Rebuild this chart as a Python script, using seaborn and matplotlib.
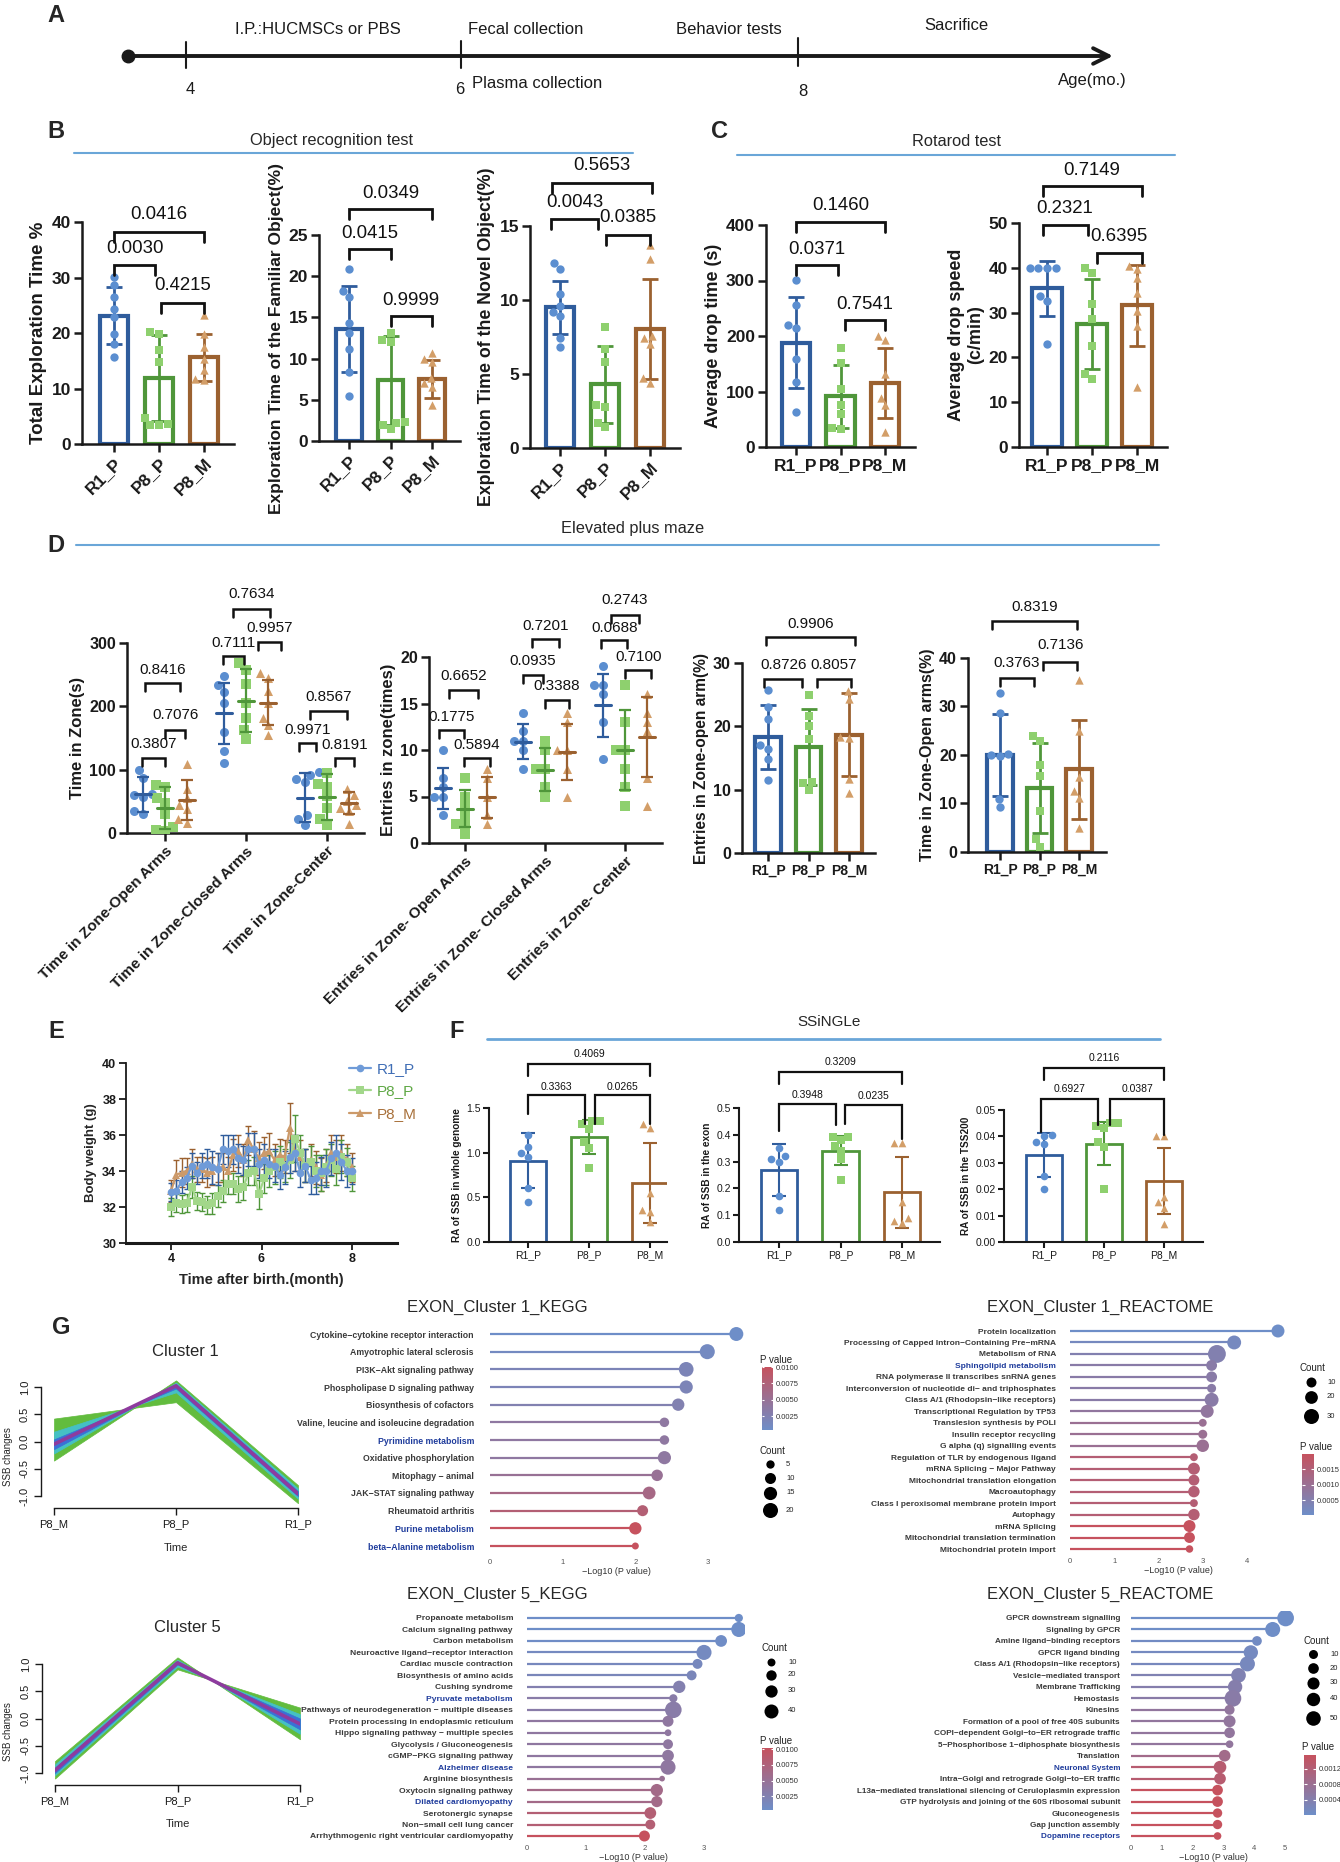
import warnings
warnings.filterwarnings("ignore")
import numpy as np
import pandas as pd
import matplotlib
matplotlib.use("Agg")
import matplotlib.pyplot as plt
import seaborn as sns
from matplotlib.colors import LinearSegmentedColormap, Normalize
from matplotlib.cm import ScalarMappable
from matplotlib import font_manager as fm

sns.set_theme(style="ticks")
plt.rcParams['font.family'] = ['Liberation Sans', 'DejaVu Sans']
_names = {f.name for f in fm.fontManager.ttflist}
NARROW = ["Liberation Sans Narrow", "DejaVu Sans"] if "Liberation Sans Narrow" in _names else ["Liberation Sans", "DejaVu Sans"]

# ------------------------------------------------------------------ DATA
GROUPS = ["R1_P", "P8_P", "P8_M"]

# B: object recognition test
b1_mean = [23.1, 11.9, 15.6]
b1_sd = [5.1, 7.7, 4.2]
b1_pts = [[30.1, 28.6, 26.5, 24.4, 22.9, 19.9, 18.0, 15.6],
          [20.1, 19.9, 16.9, 14.8, 4.7, 3.6, 3.4, 3.5],
          [23.2, 19.8, 17.4, 15.4, 13.4, 11.8, 11.5]]
b1_p = ["0.0030", "0.4215", "0.0416"]

b2_mean = [13.6, 7.4, 7.5]
b2_sd = [5.2, 5.4, 2.3]
b2_pts = [[20.9, 18.2, 17.5, 14.3, 13.1, 11.2, 8.4, 5.5],
          [13.1, 12.2, 12.0, 2.3, 2.2, 2.0, 1.4],
          [10.7, 9.9, 9.6, 7.6, 7.0, 6.6, 4.4]]
b2_p = ["0.0415", "0.9999", "0.0349"]

b3_mean = [9.5, 4.3, 8.05]
b3_sd = [1.8, 2.6, 3.4]
b3_pts = [[12.5, 12.1, 10.4, 9.6, 9.2, 8.9, 7.4, 6.8],
          [8.2, 6.7, 5.8, 2.9, 2.8, 1.7, 1.4],
          [13.7, 12.8, 7.6, 7.4, 7.0, 4.7, 4.4]]
b3_p = ["0.0043", "0.0385", "0.5653"]

# C: rotarod
c1_mean = [188, 91, 116]
c1_sd = [82, 57, 63]
c1_pts = [[301, 256, 220, 214, 158, 118, 63],
          [178, 152, 104, 76, 60, 35, 32],
          [200, 192, 132, 88, 75, 27]]
c1_p = ["0.0371", "0.7541", "0.1460"]

c2_mean = [35.4, 27.5, 31.6]
c2_sd = [6.2, 10.1, 9.1]
c2_pts = [[40, 40, 40, 40, 33.6, 32.5, 23.1],
          [40, 38.9, 32, 28.5, 22.5, 16.2, 15.2],
          [40.3, 39.8, 37.7, 34.3, 30.4, 27, 13.4]]
c2_p = ["0.2321", "0.6395", "0.7149"]

# D: elevated plus maze  (zone x group)
d1_zones = ["Time in Zone-Open Arms", "Time in Zone-Closed Arms", "Time in Zone-Center"]
d1_pts = [[[100, 87, 62, 60, 57, 35, 30], [76, 72, 55, 48, 30, 10, 5, 3], [109, 70, 55, 45, 38, 22, 16]],
          [[248, 233, 222, 205, 160, 130, 110], [268, 258, 235, 205, 182, 162, 148], [252, 244, 224, 205, 182, 170, 155]],
          [[96, 92, 85, 80, 28, 22, 12], [95, 78, 73, 58, 40, 22, 12], [70, 60, 50, 45, 40, 35, 15]]]
d1_mean = [[61, 40, 52], [189, 209, 206], [56, 57, 47.5]]
d1_sd = [[28, 33, 32], [48, 50, 35], [38, 36, 17]]
d1_p = ["0.3807", "0.7076", "0.8416", "0.7111", "0.9957", "0.7634", "0.9971", "0.8191", "0.8567"]

d2_zones = ["Entries in Zone- Open Arms", "Entries in Zone- Closed Arms", "Entries in Zone- Center"]
d2_pts = [[[10, 7, 6, 5, 5, 3], [7, 5, 4, 3, 2, 2, 1], [8, 7, 5, 3, 2]],
          [[14, 12, 11, 11, 10, 8], [11, 10, 8, 8, 6, 5], [14, 13, 10, 10, 8, 5]],
          [[19, 17, 17, 16, 13, 9], [17, 13, 10, 10, 8, 6, 4], [16, 14, 13, 12, 7, 4]]]
d2_mean = [[5.9, 3.7, 4.9], [10.9, 7.9, 9.8], [14.8, 10.0, 11.4]]
d2_sd = [[2.2, 2.0, 2.2], [1.9, 2.3, 3.0], [3.4, 4.3, 4.3]]
d2_p = ["0.1775", "0.5894", "0.6652", "0.0935", "0.3388", "0.7201", "0.0688", "0.7100", "0.2743"]

d3_mean = [18.3, 16.8, 18.7]
d3_sd = [5.0, 6.0, 6.6]
d3_pts = [[25.7, 23, 21.2, 17, 16.4, 14.8, 11.6],
          [25, 21.6, 20, 18, 11.2, 11, 10],
          [25.6, 24.3, 18.3, 18.1, 11.7, 9.4]]
d3_p = ["0.8726", "0.8057", "0.9906"]

d4_mean = [20.0, 13.2, 17.1]
d4_sd = [8.5, 9.3, 10.2]
d4_pts = [[32.8, 28.6, 20.2, 20, 19.7, 11, 9.3],
          [24, 22.8, 18, 15.6, 8.5, 2.6, 1],
          [35.5, 25, 15.5, 12.5, 11.1, 5]]
d4_p = ["0.3763", "0.7136", "0.8319"]

# E: body weight (twice weekly, 4-8 months)
e_month = [4.00, 4.11, 4.23, 4.34, 4.46, 4.57, 4.69, 4.80, 4.91, 5.03, 5.14, 5.26, 5.37, 5.49, 5.60, 5.71, 5.83, 5.94,
           6.06, 6.17, 6.29, 6.40, 6.51, 6.63, 6.74, 6.86, 6.97, 7.09, 7.20, 7.31, 7.43, 7.54, 7.66, 7.77, 7.89, 8.00]
e_r1 = [32.85, 32.9, 33.4, 33.6, 34.3, 33.9, 34.3, 34.4, 34.2, 34.1, 35.2, 35.1, 35.2, 34.7, 34.6, 35.2, 35.2, 34.4,
        34.6, 34.4, 34.3, 33.8, 34.2, 34.8, 35.0, 33.9, 34.3, 33.5, 33.6, 34.0, 34.0, 34.7, 35.0, 34.5, 34.0, 34.0]
e_r1_sd = [0.5, 0.6, 0.6, 0.6, 0.7, 0.6, 0.7, 0.8, 0.9, 0.9, 0.8, 0.9, 0.8, 0.8, 0.8, 0.9, 0.9, 0.8,
           0.9, 0.8, 0.9, 0.8, 0.9, 0.9, 1.0, 0.8, 0.9, 0.8, 0.9, 0.8, 0.9, 0.9, 1.0, 1.0, 0.9, 0.7]
e_p8p = [32.0, 32.2, 32.15, 32.2, 33.1, 32.35, 32.3, 32.1, 32.2, 32.6, 32.9, 33.3, 33.3, 33.0, 33.1, 33.9, 34.0, 32.7,
         33.6, 34.0, 34.2, 34.5, 34.3, 34.6, 35.8, 35.0, 34.3, 34.5, 34.0, 33.9, 34.2, 34.6, 34.1, 34.8, 34.5, 33.6]
e_p8p_sd = [0.5, 0.5, 0.5, 0.5, 0.6, 0.5, 0.5, 0.5, 0.6, 0.6, 0.6, 0.6, 0.6, 0.7, 0.7, 0.7, 0.8, 0.8,
            0.8, 0.9, 0.9, 0.9, 0.9, 1.0, 1.3, 1.0, 0.9, 0.9, 0.9, 1.0, 1.0, 0.9, 0.9, 0.9, 0.8, 0.7]
e_p8m = [32.9, 33.8, 33.9, 34.0, 34.4, 34.1, 34.1, 33.9, 34.0, 34.2, 34.2, 34.0, 34.9, 35.1, 34.6, 35.7, 35.2, 34.7,
         35.0, 35.1, 34.6, 34.9, 34.8, 36.4, 35.0, 34.8, 34.3, 34.6, 34.2, 33.8, 34.3, 35.0, 34.8, 35.0, 34.6, 34.2]
e_p8m_sd = [0.6, 0.8, 0.8, 0.7, 0.8, 0.7, 0.7, 0.8, 0.8, 0.8, 0.8, 0.8, 0.9, 0.9, 0.9, 0.8, 1.0, 0.9,
            0.9, 1.0, 0.9, 0.9, 0.9, 1.4, 1.0, 0.9, 0.9, 0.9, 0.9, 0.9, 0.9, 1.0, 0.9, 1.0, 0.9, 0.8]

# F: SSiNGLe
f1_mean = [0.91, 1.18, 0.66]
f1_sd = [0.31, 0.19, 0.45]
f1_pts = [[1.2, 1.06, 1.0, 0.95, 0.6, 0.45], [1.36, 1.35, 1.32, 1.27, 1.12, 1.05, 0.83], [1.32, 1.28, 0.55, 0.36, 0.34, 0.22]]
f1_p = ["0.3363", "0.0265", "0.4069"]
f2_mean = [0.269, 0.341, 0.185]
f2_sd = [0.097, 0.054, 0.131]
f2_pts = [[0.35, 0.32, 0.31, 0.30, 0.17, 0.12], [0.39, 0.39, 0.38, 0.36, 0.34, 0.31, 0.23], [0.37, 0.37, 0.15, 0.09, 0.08, 0.07]]
f2_p = ["0.3948", "0.0235", "0.3209"]
f3_mean = [0.0329, 0.0373, 0.0230]
f3_sd = [0.0084, 0.0083, 0.0125]
f3_pts = [[0.0405, 0.040, 0.038, 0.037, 0.025, 0.020], [0.045, 0.045, 0.044, 0.043, 0.038, 0.036, 0.020], [0.040, 0.040, 0.017, 0.015, 0.013, 0.007]]
f3_p = ["0.6927", "0.0387", "0.2116"]

# G: clusters (P8_M, P8_P, R1_P)
cl_x = ["P8_M", "P8_P", "R1_P"]
cl1_layers = [([0.42, 0.72, -1.13], [-0.35, 1.12, -0.80]),
              ([0.18, 0.90, -1.05], [-0.22, 1.08, -0.86]),
              ([0.04, 0.97, -1.00], [-0.14, 1.05, -0.91])]
cl1_center = [-0.05, 1.02, -0.96]
cl5_layers = [([-1.10, 0.90, 0.20], [-0.78, 1.12, -0.38]),
              ([-1.04, 0.95, 0.08], [-0.84, 1.08, -0.28]),
              ([-1.00, 0.99, 0.00], [-0.90, 1.05, -0.20])]
cl5_center = [-0.95, 1.02, -0.10]

k1_names = ["Cytokine−cytokine receptor interaction", "Amyotrophic lateral sclerosis", "PI3K−Akt signaling pathway",
            "Phospholipase D signaling pathway", "Biosynthesis of cofactors", "Valine, leucine and isoleucine degradation",
            "Pyrimidine metabolism", "Oxidative phosphorylation", "Mitophagy − animal", "JAK−STAT signaling pathway",
            "Rheumatoid arthritis", "Purine metabolism", "beta−Alanine metabolism"]
k1_vals = [3.39, 2.99, 2.70, 2.70, 2.59, 2.40, 2.40, 2.40, 2.30, 2.19, 2.10, 2.00, 2.00]
k1_counts = [17, 20, 19, 15, 13, 7, 7, 15, 11, 14, 10, 13, 3]
k1_blue = ["Pyrimidine metabolism", "Purine metabolism", "beta−Alanine metabolism"]

r1_names = ["Protein localization", "Processing of Capped Intron−Containing Pre−mRNA", "Metabolism of RNA",
            "Sphingolipid metabolism", "RNA polymerase II transcribes snRNA genes",
            "Interconversion of nucleotide di− and triphosphates", "Class A/1 (Rhodopsin−like receptors)",
            "Transcriptional Regulation by TP53", "Translesion synthesis by POLI", "Insulin receptor recycling",
            "G alpha (q) signalling events", "Regulation of TLR by endogenous ligand", "mRNA Splicing − Major Pathway",
            "Mitochondrial translation elongation", "Macroautophagy", "Class I peroxisomal membrane protein import",
            "Autophagy", "mRNA Splicing", "Mitochondrial translation termination", "Mitochondrial protein import"]
r1_vals = [4.70, 3.71, 3.32, 3.20, 3.20, 3.20, 3.20, 3.10, 3.00, 3.00, 3.00, 2.80, 2.80, 2.80, 2.80, 2.80, 2.80, 2.70, 2.70, 2.70]
r1_counts = [21, 25, 45, 13, 13, 7, 25, 21, 4, 7, 19, 4, 17, 13, 15, 4, 15, 17, 13, 3]
r1_blue = ["Sphingolipid metabolism"]

k5_names = ["Propanoate metabolism", "Calcium signaling pathway", "Carbon metabolism",
            "Neuroactive ligand−receptor interaction", "Cardiac muscle contraction", "Biosynthesis of amino acids",
            "Cushing syndrome", "Pyruvate metabolism", "Pathways of neurodegeneration − multiple diseases",
            "Protein processing in endoplasmic reticulum", "Hippo signaling pathway − multiple species",
            "Glycolysis / Gluconeogenesis", "cGMP−PKG signaling pathway", "Alzheimer disease", "Arginine biosynthesis",
            "Oxytocin signaling pathway", "Dilated cardiomyopathy", "Serotonergic synapse", "Non−small cell lung cancer",
            "Arrhythmogenic right ventricular cardiomyopathy"]
k5_vals = [3.59, 3.59, 3.29, 3.00, 2.89, 2.79, 2.58, 2.48, 2.48, 2.39, 2.39, 2.39, 2.39, 2.39, 2.29, 2.20, 2.20, 2.09, 2.09, 1.99]
k5_counts = [11, 47, 27, 47, 18, 18, 30, 11, 58, 23, 6, 18, 27, 47, 3, 30, 24, 27, 18, 23]
k5_blue = ["Pyruvate metabolism", "Alzheimer disease", "Dilated cardiomyopathy"]

r5_names = ["GPCR downstream signalling", "Signaling by GPCR", "Amine ligand−binding receptors", "GPCR ligand binding",
            "Class A/1 (Rhodopsin−like receptors)", "Vesicle−mediated transport", "Membrane Trafficking", "Hemostasis",
            "Kinesins", "Formation of a pool of free 40S subunits", "COPI−dependent Golgi−to−ER retrograde traffic",
            "5−Phosphoribose 1−diphosphate biosynthesis", "Translation", "Neuronal System",
            "Intra−Golgi and retrograde Golgi−to−ER traffic",
            "L13a−mediated translational silencing of Ceruloplasmin expression",
            "GTP hydrolysis and joining of the 60S ribosomal subunit", "Gluconeogenesis", "Gap junction assembly",
            "Dopamine receptors"]
r5_vals = [5.02, 4.60, 4.09, 3.89, 3.78, 3.49, 3.38, 3.31, 3.20, 3.20, 3.20, 3.20, 3.04, 2.89, 2.89, 2.81, 2.81, 2.81, 2.81, 2.81]
r5_counts = [70, 54, 14, 48, 54, 51, 48, 70, 16, 29, 20, 3, 27, 34, 27, 20, 20, 12, 12, 3]
r5_blue = ["Neuronal System", "Dopamine receptors"]

# ------------------------------------------------------------------ STYLE
EDGE = ["#2F5C9C", "#4F963A", "#9B6130"]
PTC = ["#5B8ED0", "#8ED06E", "#D39E68"]
ELINE = ["#6F9BD8", "#A2D78A", "#CC9A6A"]
ETXT = ["#3F6DB5", "#5FA845", "#A8703A"]
MARKS = ["o", "s", "^"]
OFFS = [-0.27, 0.0, 0.27]
SECT = "#6AA6D8"
HILITE = "#1F3C9C"
CMAP = LinearSegmentedColormap.from_list("pv", ["#6E8EC8", "#C6525E"])
LAYER_COLS = ["#62BC3E", "#45C0C4", "#3A70D6"]

W, H = 1340, 1862
fig = plt.figure(figsize=(W / 100, H / 100), dpi=100)
fig.patch.set_facecolor("white")

ov = fig.add_axes([0, 0, 1, 1])
ov.set_xlim(0, W)
ov.set_ylim(H, 0)
ov.axis("off")
ov.patch.set_visible(False)


def px_ax(x0, y0, x1, y1):
    a = fig.add_axes([x0 / W, 1 - y1 / H, (x1 - x0) / W, (y1 - y0) / H])
    a.patch.set_visible(False)
    return a


def finish_axes(ax, slw, tlen, tfs, bold=True, fam=None, xfs=None):
    sns.despine(ax=ax)
    for s in ("left", "bottom"):
        ax.spines[s].set_linewidth(slw)
        ax.spines[s].set_color("#1a1a1a")
    ax.tick_params(axis="both", width=slw, length=tlen, labelsize=tfs, colors="#1a1a1a", pad=2)
    if xfs:
        ax.tick_params(axis="x", labelsize=xfs)
    for lab in ax.get_xticklabels() + ax.get_yticklabels():
        lab.set_fontweight("bold" if bold else "normal")
        if fam:
            lab.set_family(fam)


def bracket(ax, spec, txt, dpp, fs, lw=2.0, fam=None, leg=10):
    x1, x2, y, ty = spec[:4]
    ll, lr = (spec[4], spec[5]) if len(spec) > 4 else (leg, leg)
    ax.plot([x1, x1, x2, x2], [y - ll * dpp, y, y, y - lr * dpp], color="#111111", lw=lw,
            clip_on=False, zorder=6, solid_joinstyle="miter")
    ax.text((x1 + x2) / 2, ty, txt, ha="center", va="center", fontsize=fs, clip_on=False,
            zorder=6, family=fam if fam else plt.rcParams["font.family"], color="#111111")


def bar_panel(geom, ymax, yticks, ytl, means, sds, pts, brk_txt, brk_pos, ylabel, rot,
              barw=0.62, blw=3.0, elw=2.0, cap=6, ms=6.0, pfs=13.4, tfs=12.5, yfs=13, xfs=None,
              slw=1.8, tlen=6, tick_bold=True, bfam=None, blkw=2.0, tfam=None, ylw="bold", leg=10):
    xa, xe, c0, c2, yt, yb = geom
    unit = (c2 - c0) / 2.0
    ax = px_ax(xa, yt, xe, yb)
    df = pd.DataFrame({"pos": [0.0, 1.0, 2.0], "val": means, "grp": GROUPS})
    sns.barplot(data=df, x="pos", y="val", hue="grp", hue_order=GROUPS, palette=EDGE,
                native_scale=True, dodge=False, fill=False, width=barw, linewidth=blw,
                errorbar=None, legend=False, ax=ax)
    for i in range(3):
        ax.errorbar(i, means[i], yerr=sds[i], fmt="none", ecolor=EDGE[i], elinewidth=elw,
                    capsize=cap, capthick=elw, zorder=4)
        sns.swarmplot(x=[float(i)] * len(pts[i]), y=pts[i], native_scale=True, orient="x",
                      marker=MARKS[i], color=PTC[i], size=ms, linewidth=0, ax=ax, zorder=5)
    ax.set_xlim((xa - c0) / unit, (xe - c0) / unit)
    ax.set_ylim(0, ymax)
    ax.set_yticks(yticks)
    ax.set_yticklabels(ytl)
    ax.set_xticks([0, 1, 2])
    if rot:
        ax.set_xticklabels(GROUPS, rotation=rot, ha="right", rotation_mode="anchor")
    else:
        ax.set_xticklabels(GROUPS)
    ax.set_xlabel("")
    ax.set_ylabel(ylabel, fontsize=yfs, fontweight=ylw, color="#1a1a1a", labelpad=3)
    finish_axes(ax, slw, tlen, tfs, bold=tick_bold, fam=tfam, xfs=xfs)
    dpp = ymax / (yb - yt)
    for spec, txt in zip(brk_pos, brk_txt):
        bracket(ax, spec, txt, dpp, pfs, lw=blkw, fam=bfam, leg=leg)
    return ax


def scatter_panel(geom, ymax, yticks, pts, means, sds, brk_txt, brk_pos, zones, ylabel):
    xa, xe, c0, c2, yt, yb = geom
    unit = (c2 - c0) / 2.0
    ax = px_ax(xa, yt, xe, yb)
    for h in range(3):
        xs, ys = [], []
        for g in range(3):
            xs += [g + OFFS[h]] * len(pts[g][h])
            ys += pts[g][h]
        sns.swarmplot(x=xs, y=ys, native_scale=True, orient="x", marker=MARKS[h], color=PTC[h],
                      size=6.5, linewidth=0, ax=ax, zorder=3)
        for g in range(3):
            x = g + OFFS[h]
            ax.plot([x - 0.1, x + 0.1], [means[g][h]] * 2, color=EDGE[h], lw=2.2, zorder=4)
            ax.errorbar(x, means[g][h], yerr=sds[g][h], fmt="none", ecolor=EDGE[h], elinewidth=1.6,
                        capsize=4, capthick=1.6, zorder=4)
    ax.set_xlim((xa - c0) / unit, (xe - c0) / unit)
    ax.set_ylim(0, ymax)
    ax.set_yticks(yticks)
    ax.set_xticks([0, 1, 2])
    ax.set_xticklabels(zones, rotation=45, ha="right", rotation_mode="anchor")
    ax.set_xlabel("")
    ax.set_ylabel(ylabel, fontsize=12, fontweight="bold", color="#1a1a1a", labelpad=3)
    finish_axes(ax, 1.8, 6, 11.5, xfs=11)
    dpp = ymax / (yb - yt)
    for spec, txt in zip(brk_pos, brk_txt):
        bracket(ax, spec, txt, dpp, 11, lw=1.8, leg=8)
    return ax


def lollipop(names, vals, counts, blues, ax_x0, ax_x1, zero_px, unit_px, y_first, y_last,
             xticks, lab_end, lfs, lfam, size_norm, sizes):
    n = len(names)
    sp = (y_last - y_first) / (n - 1)
    ax = px_ax(ax_x0, y_first - 0.6 * sp, ax_x1, y_last + 0.6 * sp)
    pv = [10 ** (-v) for v in vals]
    norm = Normalize(min(pv), max(pv))
    ypos = list(range(n))
    ax.hlines(ypos, 0, vals, colors=[CMAP(norm(q)) for q in pv], lw=1.6, zorder=1)
    sns.scatterplot(x=vals, y=ypos, hue=pv, palette=CMAP, hue_norm=norm, size=counts, sizes=sizes,
                    size_norm=size_norm, legend=False, linewidth=0, ax=ax, zorder=3)
    ax.set_xlim((ax_x0 - zero_px) / unit_px, (ax_x1 - zero_px) / unit_px)
    ax.set_ylim(n - 0.4, -0.6)
    ax.set_yticks(ypos)
    ax.set_yticklabels(names, fontsize=lfs, fontweight="bold", family=lfam)
    for lab, nm in zip(ax.get_yticklabels(), names):
        lab.set_color(HILITE if nm in blues else "#3a3a3a")
    ax.set_xticks(xticks)
    ax.set_xticklabels([str(t) for t in xticks], fontsize=5.5, color="#555555")
    ax.tick_params(axis="y", length=0, pad=(ax_x0 - lab_end) * 0.72)
    ax.tick_params(axis="x", length=0, pad=1.5)
    ax.set_xlabel("−Log10 (P value)", fontsize=6.5, color="#333333", labelpad=1)
    ax.set_ylabel("")
    for s in ax.spines.values():
        s.set_visible(False)
    ax.grid(False)
    return norm


def pbar(norm, x0, y0, x1, y1, ticks, title_xy):
    cax = px_ax(x0, y0, x1, y1)
    cb = fig.colorbar(ScalarMappable(norm=norm, cmap=CMAP), cax=cax, ticks=ticks)
    cb.outline.set_visible(False)
    cax.tick_params(length=0, labelsize=5.5, pad=2, colors="#333333")
    cax.set_yticklabels([f"{t:.4f}" for t in ticks])
    cax.hlines(ticks, 0, 0.22, colors="white", lw=0.8)
    cax.hlines(ticks, 0.78, 1, colors="white", lw=0.8)
    ov.text(title_xy[0], title_xy[1], "P value", fontsize=7, ha="left", va="center", color="#222222")


def count_legend(title_xy, dot_x, dot_ys, cnts, lab_x, size_norm, sizes):
    ov.text(title_xy[0], title_xy[1], "Count", fontsize=7, ha="left", va="center", color="#222222")
    lo, hi = size_norm
    for y, c in zip(dot_ys, cnts):
        s = sizes[0] + (c - lo) / (hi - lo) * (sizes[1] - sizes[0])
        ov.scatter([dot_x], [y], s=s, color="black", linewidths=0)
        ov.text(lab_x, y, str(c), fontsize=5.5, ha="left", va="center", color="#222222")


def cluster_panel(box, layers, center):
    x0, x1, ytop, ybot = box
    ax = px_ax(x0, ytop, x1, ybot)
    xs = [0, 1, 2]
    for (a, b), col in zip(layers, LAYER_COLS):
        ax.fill_between(xs, a, b, color=col, lw=0.5, edgecolor=col)
    sns.lineplot(x=xs, y=center, color="#8E3B9E", lw=2.6, ax=ax)
    ax.set_xlim(0, 2)
    ax.set_ylim(-1.2, 1.2)
    sns.despine(ax=ax)
    ax.spines["left"].set_position(("outward", 9.4))
    ax.spines["left"].set_bounds(-1, 1)
    ax.spines["bottom"].set_position(("outward", 0.8))
    ax.spines["bottom"].set_bounds(0, 2)
    for s in ("left", "bottom"):
        ax.spines[s].set_linewidth(1.0)
        ax.spines[s].set_color("#1a1a1a")
    ax.set_yticks([-1, -0.5, 0, 0.5, 1])
    ax.set_yticklabels(["-1.0", "-0.5", "0.0", "0.5", "1.0"], rotation=90, va="center", family=NARROW)
    ax.set_xticks([0, 1, 2])
    ax.set_xticklabels(cl_x, family=NARROW)
    ax.tick_params(length=5, width=1, labelsize=8, colors="#1a1a1a", pad=3)
    ax.set_xlabel("")
    ax.set_ylabel("")


# ------------------------------------------------------------------ PANEL A
ov.text(56, 15, "A", fontsize=17, fontweight="bold", ha="center", va="center")
ov.annotate("", xy=(1113, 56), xytext=(128, 56),
            arrowprops=dict(arrowstyle="->", lw=2.8, color="#1a1a1a", mutation_scale=28, shrinkA=0, shrinkB=0))
ov.plot([128], [56], "o", ms=9, color="#1a1a1a")
for tx, ta, tb in [(186, 42, 68), (461, 41, 68), (798, 38, 66)]:
    ov.plot([tx, tx], [ta, tb], color="#1a1a1a", lw=1.5)
for s, x, y in [("I.P.:HUCMSCs or PBS", 318, 30), ("Fecal collection", 526, 30), ("Behavior tests", 729, 30),
                ("Sacrifice", 956, 25), ("Plasma collection", 537, 83), ("Age(mo.)", 1092, 81),
                ("4", 190, 90), ("6", 460, 90), ("8", 803, 91)]:
    ov.text(x, y, s, fontsize=12, ha="center", va="center", color="#1a1a1a")

# section headers
ov.text(56, 132, "B", fontsize=17, fontweight="bold", ha="center", va="center")
ov.text(332, 141, "Object recognition test", fontsize=11.8, ha="center", va="center")
ov.plot([74, 633], [153, 153], color=SECT, lw=1.5)
ov.text(720, 132, "C", fontsize=17, fontweight="bold", ha="center", va="center")
ov.text(956, 141, "Rotarod test", fontsize=11.8, ha="center", va="center")
ov.plot([737, 1175], [155, 155], color=SECT, lw=1.5)
ov.text(56, 545, "D", fontsize=17, fontweight="bold", ha="center", va="center")
ov.text(633, 528, "Elevated plus maze", fontsize=11.8, ha="center", va="center")
ov.plot([76, 1159], [545, 545], color=SECT, lw=1.5)
ov.text(56, 1032, "E", fontsize=17, fontweight="bold", ha="center", va="center")
ov.text(457, 1032, "F", fontsize=17, fontweight="bold", ha="center", va="center")
ov.text(829, 1022, "SSiNGLe", fontsize=11, ha="center", va="center", family=NARROW)
ov.plot([487, 1160], [1039, 1039], color=SECT, lw=2)
ov.text(61, 1328, "G", fontsize=17, fontweight="bold", ha="center", va="center")

# ------------------------------------------------------------------ PANEL B / C
bar_panel((82, 234, 114, 204, 222, 444), 40, [0, 10, 20, 30, 40], ["0", "10", "20", "30", "40"],
          b1_mean, b1_sd, b1_pts, b1_p,
          [(0, 0.92, 32.2, 35.3), (1.05, 2, 25.4, 28.6), (0, 2, 38.2, 41.4)],
          "Total Exploration Time %", 45, yfs=13.5)
bar_panel((319, 460, 349, 432, 235, 441), 25, [0, 5, 10, 15, 20, 25], ["0", "5", "10", "15", "20", "25"],
          b2_mean, b2_sd, b2_pts, b2_p,
          [(0, 1, 23.3, 25.2), (1, 2, 15.2, 17.1), (0, 2, 28.2, 30.0)],
          "Exploration Time of the Familiar Object(%)", 45, yfs=12.5)
bar_panel((530, 680, 560, 650, 226, 448), 15, [0, 5, 10, 15], ["0", "5", "10", "15"],
          b3_mean, b3_sd, b3_pts, b3_p,
          [(-0.2, 0.84, 15.5, 16.6), (1.02, 2, 14.4, 15.6), (-0.18, 2.04, 17.9, 19.1)],
          "Exploration Time of the Novel Object(%)", 45, yfs=12.8)
bar_panel((766, 915, 796, 885, 225, 447), 400, [0, 100, 200, 300, 400], ["0", "100", "200", "300", "400"],
          c1_mean, c1_sd, c1_pts, c1_p,
          [(0, 0.95, 328, 356), (1.1, 2, 228, 256), (0, 2, 406, 436)],
          "Average drop time (s)", 0, barw=0.65)
bar_panel((1019, 1167, 1047, 1137, 223, 447), 50, [0, 10, 20, 30, 40, 50], ["0", "10", "20", "30", "40", "50"],
          c2_mean, c2_sd, c2_pts, c2_p,
          [(-0.1, 0.9, 49.6, 53.2), (1.1, 2.1, 43.4, 47.0), (-0.1, 2.1, 58.2, 61.8)],
          "Average drop speed\n(c/min)", 0, barw=0.65)

# ------------------------------------------------------------------ PANEL D
scatter_panel((127, 364, 165, 327, 643, 833), 300, [0, 100, 200, 300], d1_pts, d1_mean, d1_sd, d1_p,
              [(-0.28, 0.0, 119, 141), (0.0, 0.25, 163, 186), (-0.25, 0.19, 237, 257),
               (0.71, 0.98, 280, 300), (1.15, 1.43, 301, 324), (0.84, 1.30, 354, 377),
               (1.65, 1.87, 142, 163), (2.10, 2.33, 119, 139), (1.79, 2.25, 192, 215)],
              d1_zones, "Time in Zone(s)")
scatter_panel((429, 662, 465, 625, 657, 843), 20, [0, 5, 10, 15, 20], d2_pts, d2_mean, d2_sd, d2_p,
              [(-0.32, -0.01, 12.2, 13.6), (-0.01, 0.31, 9.1, 10.5), (-0.2, 0.16, 16.4, 18.0),
               (0.72, 0.97, 18.1, 19.6), (1.0, 1.3, 15.4, 16.9), (0.84, 1.17, 21.9, 23.3),
               (1.7, 2.03, 21.8, 23.1), (2.0, 2.33, 18.6, 20.0), (1.83, 2.17, 24.5, 26.1)],
              d2_zones, "Entries in zone(times)")
bar_panel((742, 875, 768, 849, 663, 853), 30, [0, 10, 20, 30], ["0", "10", "20", "30"],
          d3_mean, d3_sd, d3_pts, d3_p,
          [(-0.1, 0.85, 27.5, 29.7), (1.2, 2.05, 27.5, 29.7), (-0.05, 2.15, 34.1, 36.1)],
          "Entries in Zone-open arm(%)", 0, barw=0.64, pfs=11, tfs=11.5, xfs=10, yfs=11.2, blkw=1.8, leg=8)
bar_panel((968, 1106, 1000, 1079, 658, 852), 40, [0, 10, 20, 30, 40], ["0", "10", "20", "30", "40"],
          d4_mean, d4_sd, d4_pts, d4_p,
          [(0, 0.85, 35.9, 39.0), (1.1, 1.95, 39.2, 42.7), (-0.2, 1.95, 47.7, 50.5)],
          "Time in Zone-Open arms(%)", 0, barw=0.64, pfs=11, tfs=11.5, xfs=10, yfs=11.5, blkw=1.8, leg=8)

# ------------------------------------------------------------------ PANEL E
axE = px_ax(126, 1063, 397, 1243)
for vals, sd, i in [(e_p8m, e_p8m_sd, 2), (e_p8p, e_p8p_sd, 1), (e_r1, e_r1_sd, 0)]:
    axE.errorbar(e_month, vals, yerr=sd, fmt="none", ecolor=EDGE[i], elinewidth=1.0, capsize=2,
                 capthick=1.0, zorder=2)
    sns.lineplot(x=e_month, y=vals, color=ELINE[i], marker=MARKS[i], markersize=5.5, markeredgewidth=0,
                 linewidth=1.6, ax=axE, label=GROUPS[i], zorder=3)
axE.set_xlim(3.0, 9.0)
axE.set_ylim(30, 40)
axE.set_xticks([4, 6, 8])
axE.set_yticks([30, 32, 34, 36, 38, 40])
axE.set_xlabel("Time after birth.(month)", fontsize=10.5, fontweight="bold", labelpad=6)
axE.set_ylabel("Body weight (g)", fontsize=9.5, fontweight="bold", labelpad=4)
finish_axes(axE, 1.3, 5, 9, bold=True)
axE.spines["bottom"].set_linewidth(2.2)
hs, ls = axE.get_legend_handles_labels()
order = [ls.index(g) for g in GROUPS]
leg = axE.legend([hs[k] for k in order], GROUPS, loc="upper left", bbox_to_anchor=(343 / W, 1 - 1056 / H),
                 bbox_transform=fig.transFigure, frameon=False, handlelength=1.4,
                 labelspacing=0.55, handletextpad=0.4, borderaxespad=0, prop={"size": 11})
for t, c in zip(leg.get_texts(), ETXT):
    t.set_color(c)

# ------------------------------------------------------------------ PANEL F
fkw = dict(barw=0.6, blw=2.0, elw=1.5, cap=5, ms=5.5, pfs=7.5, tfs=7.5, yfs=7.2, slw=1.5, tlen=4,
           tick_bold=False, bfam=NARROW, blkw=1.6, tfam=NARROW)
bar_panel((489, 667, 528, 650, 1108, 1242), 1.5, [0, 0.5, 1.0, 1.5], ["0.0", "0.5", "1.0", "1.5"],
          f1_mean, f1_sd, f1_pts, f1_p,
          [(0, 0.93, 1.64, 1.74, 19, 29), (1.1, 2, 1.64, 1.74, 29, 29), (0, 2, 1.99, 2.10, 12, 12)],
          "RA of SSB in whole genome", 0, **fkw)
bar_panel((739, 940, 779, 902, 1108, 1242), 0.5, [0, 0.1, 0.2, 0.3, 0.4, 0.5],
          ["0.0", "0.1", "0.2", "0.3", "0.4", "0.5"],
          f2_mean, f2_sd, f2_pts, f2_p,
          [(0, 0.93, 0.515, 0.55, 27, 21), (1.07, 2, 0.51, 0.546, 19, 34), (0, 2, 0.634, 0.67, 12, 12)],
          "RA of SSB in the exon", 0, **fkw)
bar_panel((1004, 1203, 1044, 1164, 1110, 1242), 0.05, [0, 0.01, 0.02, 0.03, 0.04, 0.05],
          ["0.00", "0.01", "0.02", "0.03", "0.04", "0.05"],
          f3_mean, f3_sd, f3_pts, f3_p,
          [(-0.05, 0.9, 0.0542, 0.0578, 33, 26), (1.1, 2, 0.0542, 0.0578, 26, 36), (0, 2, 0.0658, 0.0696, 12, 12)],
          "RA of SSB in the TSS200", 0, **fkw)

# ------------------------------------------------------------------ PANEL G
cluster_panel((54, 298, 1376, 1507), cl1_layers, cl1_center)
ov.text(185, 1351, "Cluster 1", fontsize=12, ha="center", va="center", family=NARROW)
ov.text(176, 1548, "Time", fontsize=8, ha="center", va="center", family=NARROW)
ov.text(8, 1457, "SSB changes", fontsize=7, rotation=90, ha="center", va="center")
cluster_panel((55, 300, 1653, 1784), cl5_layers, cl5_center)
ov.text(187, 1627, "Cluster 5", fontsize=12, ha="center", va="center", family=NARROW)
ov.text(178, 1824, "Time", fontsize=8, ha="center", va="center", family=NARROW)
ov.text(8, 1732, "SSB changes", fontsize=7, rotation=90, ha="center", va="center")

# KEGG cluster 1
ov.text(497, 1307, "EXON_Cluster 1_KEGG", fontsize=12, ha="center", va="center", family=NARROW)
n1 = lollipop(k1_names, k1_vals, k1_counts, k1_blue, 485, 748, 490, 72.67, 1334, 1546, [0, 1, 2, 3],
              474, 6.3, NARROW, (3, 20), (25.2, 117))
pbar(n1, 762, 1367, 773, 1430, [0.0025, 0.005, 0.0075, 0.01], (760, 1360))
count_legend((760, 1451), 770, [1464, 1478, 1493, 1510], [5, 10, 15, 20], 786, (3, 20), (25.2, 117))

# REACTOME cluster 1
ov.text(1100, 1307, "EXON_Cluster 1_REACTOME", fontsize=12, ha="center", va="center")
n2 = lollipop(r1_names, r1_vals, r1_counts, r1_blue, 1065, 1292, 1070, 44.25, 1331, 1549, [0, 1, 2, 3, 4],
              1056, 6, ["Liberation Sans", "DejaVu Sans"], (3, 45), (29.1, 165.2))
count_legend((1300, 1368), 1311, [1382, 1397, 1416], [10, 20, 30], 1327, (3, 45), (29.1, 165.2))
pbar(n2, 1302, 1454, 1314, 1515, [0.0005, 0.001, 0.0015], (1300, 1447))

# KEGG cluster 5
ov.text(497, 1594, "EXON_Cluster 5_KEGG", fontsize=12, ha="center", va="center", family=NARROW)
n3 = lollipop(k5_names, k5_vals, k5_counts, k5_blue, 522, 745, 527, 59.0, 1618, 1836, [0, 1, 2, 3],
              513, 6.1, NARROW, (3, 58), (16.9, 142.8))
count_legend((762, 1648), 771, [1662, 1675, 1691, 1711], [10, 20, 30, 40], 788, (3, 58), (16.9, 142.8))
pbar(n3, 762, 1748, 773, 1810, [0.0025, 0.005, 0.0075, 0.01], (760, 1741))

# REACTOME cluster 5
ov.text(1100, 1594, "EXON_Cluster 5_REACTOME", fontsize=12, ha="center", va="center")
n4 = lollipop(r5_names, r5_vals, r5_counts, r5_blue, 1126, 1300, 1131, 30.8, 1618, 1836, [0, 1, 2, 3, 4, 5],
              1120, 5.9, ["Liberation Sans", "DejaVu Sans"], (3, 70), (30.1, 144))
count_legend((1304, 1641), 1313, [1654, 1668, 1683, 1699, 1718], [10, 20, 30, 40, 50], 1330, (3, 70), (30.1, 144))
pbar(n4, 1304, 1755, 1316, 1815, [0.0004, 0.0008, 0.0012], (1302, 1747))

fig.savefig("out.png", dpi=100, facecolor="white")
